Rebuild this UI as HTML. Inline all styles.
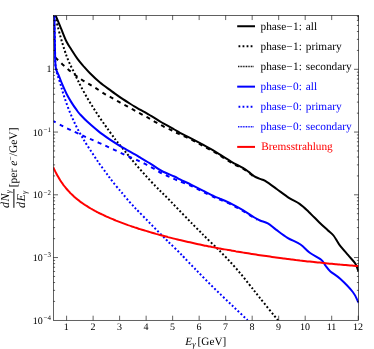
<!DOCTYPE html>
<html><head><meta charset="utf-8"><title>chart</title>
<style>html,body{margin:0;padding:0;background:#fff;}body{width:374px;height:349px;overflow:hidden;position:relative;font-family:"Liberation Serif",serif;}svg{will-change:transform;}svg text{text-rendering:geometricPrecision;}</style></head>
<body>
<svg width="374" height="349" viewBox="0 0 374 349" style="position:absolute;left:0;top:0;font-family:'Liberation Serif',serif">
<rect x="0" y="0" width="374" height="349" fill="#fff"/>
<defs><clipPath id="c"><rect x="53.4" y="15.45" width="305.20000000000005" height="304.85"/></clipPath></defs>
<g clip-path="url(#c)" fill="none" stroke-linejoin="round">
<path d="M55.6,15.4 C56.5,17.6 59.3,24.2 61.1,28.6 C62.9,33.0 64.9,38.4 66.6,41.8 C68.3,45.2 69.4,46.4 71.2,49.2 C73.0,52.0 75.3,55.8 77.5,58.8 C79.7,61.8 82.3,64.7 84.4,67.2 C86.5,69.6 87.4,70.7 90.0,73.3 C92.6,75.9 96.4,79.6 100.0,82.6 C103.6,85.6 107.7,88.3 111.5,91.1 C115.3,93.8 119.1,96.6 122.9,99.2 C126.7,101.7 131.6,104.6 134.4,106.4 C137.2,108.1 137.2,108.0 140.0,109.6 C142.8,111.2 147.9,114.0 151.5,116.2 C155.1,118.3 158.0,120.3 161.8,122.5 C165.6,124.7 171.4,127.7 174.4,129.5 C177.4,131.2 177.2,131.3 180.0,132.8 C182.8,134.3 187.7,136.7 191.5,138.7 C195.3,140.7 199.1,142.7 202.9,144.7 C206.7,146.8 211.6,149.5 214.4,151.1 C217.2,152.8 217.2,152.8 220.0,154.6 C222.8,156.4 227.7,159.6 231.5,161.8 C235.3,164.0 240.0,166.2 242.9,167.9 C245.8,169.6 246.8,170.5 248.7,171.9 C250.6,173.3 252.5,175.1 254.4,176.3 C256.3,177.5 258.2,178.1 260.0,178.9 C261.8,179.7 262.4,179.2 265.2,180.9 C268.0,182.6 272.7,186.1 276.7,189.0 C280.7,191.9 285.5,195.6 289.3,198.1 C293.1,200.6 296.4,201.6 299.6,203.9 C302.9,206.2 305.6,208.9 308.8,211.9 C312.1,214.9 316.0,219.2 319.1,222.2 C322.2,225.2 325.1,227.8 327.5,230.0 C329.9,232.2 331.6,233.1 333.5,235.5 C335.4,237.9 336.7,241.0 339.1,244.3 C341.6,247.6 345.5,252.0 348.2,255.2 C350.9,258.4 353.5,260.9 355.1,263.3 C356.7,265.7 357.2,268.2 357.8,269.5 C358.4,270.8 358.5,270.8 358.6,271.0" stroke="#000" stroke-width="2.0"/>
<path d="M55.0,15.7 C55.9,19.1 58.7,30.3 60.3,36.1 C61.9,41.8 63.4,46.7 64.6,50.3 C65.8,53.9 66.3,55.4 67.2,57.8 C68.1,60.2 69.1,62.3 70.2,64.7 C71.3,67.1 72.8,69.8 74.0,72.3 C75.2,74.7 76.3,77.2 77.5,79.6 C78.7,82.0 79.3,83.5 80.9,86.5 C82.5,89.5 85.0,94.0 87.0,97.5 C89.0,101.0 91.0,104.1 93.0,107.3 C95.0,110.5 97.0,113.6 99.0,116.6 C101.0,119.6 103.3,122.8 105.0,125.2 C106.7,127.7 107.8,129.1 109.3,131.2 C110.8,133.4 113.0,136.3 114.3,138.1 C115.6,139.9 115.3,139.5 117.3,141.9 C119.3,144.4 123.2,149.2 126.3,152.9 C129.3,156.6 132.4,160.4 135.6,164.2 C138.8,167.9 142.3,171.9 145.6,175.6 C148.9,179.3 152.7,183.3 155.6,186.2 C158.5,189.2 160.3,191.0 162.8,193.5 C165.3,195.9 167.8,198.4 170.5,201.2 C173.2,204.0 176.2,207.1 179.2,210.3 C182.2,213.4 186.2,217.5 188.7,220.1 C191.2,222.7 192.2,223.7 194.1,225.6 C196.0,227.6 198.4,230.0 200.3,231.9 C202.2,233.9 203.0,234.6 205.6,237.2 C208.2,239.8 212.5,243.8 216.0,247.3 C219.5,250.7 222.8,254.0 226.5,257.9 C230.2,261.7 234.1,266.1 237.9,270.5 C241.7,274.9 245.6,279.9 249.2,284.4 C252.8,288.8 254.5,291.2 259.3,297.2 C264.1,303.2 274.9,316.5 278.0,320.3" stroke="#000" stroke-width="2.0" stroke-dasharray="1.9 2.15"/>
<path d="M53.4,56.2 C54.0,56.7 55.4,57.7 56.9,59.1 C58.4,60.4 60.6,62.6 62.6,64.5 C64.6,66.3 66.7,68.2 68.9,70.1 C71.1,71.9 73.5,73.8 75.8,75.5 C78.1,77.2 80.4,78.8 82.7,80.3 C85.0,81.7 87.3,83.0 89.5,84.3 C91.7,85.7 93.3,86.5 95.8,88.1 C98.3,89.7 101.9,92.3 104.6,93.9 C107.3,95.5 109.5,96.5 112.0,97.9 C114.5,99.3 117.0,100.8 119.5,102.2 C122.0,103.6 124.8,105.0 127.3,106.3 C129.8,107.6 132.0,109.0 134.4,110.3 C136.8,111.6 139.2,112.9 141.7,114.3 C144.2,115.7 146.7,117.0 149.2,118.4 C151.7,119.8 154.1,121.3 156.6,122.7 C159.1,124.1 161.5,125.5 164.1,126.8 C166.7,128.1 169.6,129.3 172.1,130.5 C174.6,131.7 175.8,132.4 179.0,133.9 C182.2,135.4 187.5,137.7 191.5,139.7 C195.5,141.7 199.1,143.7 202.9,145.8 C206.7,147.9 211.6,150.5 214.4,152.1 C217.2,153.7 217.2,153.8 220.0,155.6 C222.8,157.4 227.7,160.6 231.5,162.8 C235.3,165.0 240.0,167.1 242.9,168.7 C245.8,170.3 246.8,171.2 248.7,172.6 C250.6,174.0 253.4,176.3 254.4,177.0" stroke="#000" stroke-width="2.0" stroke-dasharray="4.0 4.4" stroke-dashoffset="6"/>
<path d="M54.3,15.7 C54.4,21.4 54.8,41.3 55.0,50.0 C55.2,58.7 54.9,62.4 55.8,68.0 C56.7,73.6 59.3,80.2 60.3,83.5 C61.2,86.8 60.8,85.3 61.5,87.7 C62.2,90.1 63.2,93.9 64.6,97.9 C66.0,102.0 67.9,107.4 69.8,112.0 C71.7,116.6 73.8,121.3 75.8,125.4 C77.8,129.5 80.0,133.4 81.8,136.5 C83.6,139.7 84.0,140.3 86.4,144.1 C88.9,147.9 94.3,156.2 96.5,159.6 C98.7,162.9 98.3,162.1 99.7,164.1 C101.1,166.0 103.4,169.2 105.0,171.3 C106.6,173.5 107.7,175.1 109.2,177.1 C110.7,179.2 112.4,181.4 114.2,183.7 C116.0,185.9 118.5,188.8 120.0,190.6 C121.5,192.4 121.8,192.6 123.3,194.4 C124.8,196.2 127.2,199.2 129.1,201.4 C130.9,203.5 132.9,205.6 134.4,207.2 C135.9,208.9 136.1,209.0 138.3,211.2 C140.5,213.5 144.4,217.6 147.5,220.7 C150.6,223.9 153.6,227.0 156.7,230.1 C159.8,233.2 163.6,237.0 165.8,239.2 C168.0,241.5 168.5,241.9 170.0,243.4 C171.5,244.9 173.3,246.6 175.0,248.2 C176.7,249.9 178.5,251.6 180.0,253.2 C181.5,254.7 181.8,255.0 184.2,257.5 C186.6,260.1 190.6,264.3 194.5,268.3 C198.4,272.3 203.0,277.1 207.5,281.6 C212.0,286.1 216.7,290.7 221.3,295.1 C225.9,299.6 230.6,304.0 235.0,308.2 C239.4,312.3 245.5,318.2 247.6,320.2" stroke="#00f" stroke-width="2.0" stroke-dasharray="1.9 2.15"/>
<path d="M53.4,121.1 C54.7,121.8 58.5,123.9 61.2,125.3 C63.9,126.7 66.8,128.2 69.8,129.6 C72.8,131.1 76.0,132.5 79.2,134.0 C82.4,135.4 85.1,136.7 88.7,138.3 C92.3,139.9 96.6,141.8 100.8,143.6 C105.0,145.5 109.3,147.6 113.8,149.6 C118.2,151.7 123.1,154.0 127.5,156.0 C131.9,158.0 136.8,160.0 140.0,161.5 C143.2,163.0 144.5,163.7 146.9,164.9 C149.3,166.1 151.8,167.5 154.3,168.9 C156.8,170.3 159.2,172.0 161.8,173.3 C164.4,174.6 167.0,175.7 169.6,176.9 C172.2,178.1 173.5,178.8 177.2,180.3 C180.8,181.8 187.2,184.1 191.5,186.0 C195.8,187.9 199.1,189.8 202.9,191.7 C206.7,193.6 211.6,196.1 214.4,197.4 C217.2,198.7 217.2,198.4 220.0,199.6 C222.8,200.8 227.7,202.8 231.5,204.7 C235.3,206.6 239.1,208.7 242.9,210.9 C246.7,213.2 252.1,216.7 254.4,218.2 C256.8,219.7 256.6,219.4 257.0,219.7" stroke="#00f" stroke-width="2.0" stroke-dasharray="4.0 4.4" stroke-dashoffset="1.2"/>
<path d="M54.3,15.7 C54.4,21.4 54.8,41.4 55.0,50.0 C55.2,58.6 55.1,63.2 55.8,67.6 C56.5,72.0 58.1,73.7 59.2,76.5 C60.3,79.4 61.2,81.8 62.4,84.7 C63.6,87.5 65.0,90.7 66.5,93.7 C68.0,96.7 69.9,99.9 71.6,102.6 C73.3,105.4 75.4,108.3 76.8,110.2 C78.2,112.2 78.3,112.3 80.0,114.2 C81.7,116.0 83.9,118.5 86.9,121.3 C90.0,124.1 94.6,128.2 98.3,131.1 C102.0,134.1 105.2,136.3 109.3,139.1 C113.4,141.8 118.3,145.0 122.9,147.7 C127.5,150.4 133.8,153.7 136.7,155.3 C139.5,156.9 137.5,155.9 140.0,157.4 C142.5,158.9 147.9,162.0 151.5,164.3 C155.1,166.6 158.0,169.0 161.8,171.0 C165.6,173.0 171.4,175.1 174.4,176.5 C177.4,177.9 177.2,178.0 180.0,179.4 C182.8,180.8 187.7,183.0 191.5,184.9 C195.3,186.8 199.1,188.7 202.9,190.6 C206.7,192.5 211.6,195.0 214.4,196.3 C217.2,197.7 217.2,197.4 220.0,198.7 C222.8,199.9 227.7,201.9 231.5,203.8 C235.3,205.7 239.1,207.8 242.9,210.1 C246.7,212.4 251.6,215.8 254.4,217.5 C257.2,219.2 257.8,219.5 260.0,220.5 C262.2,221.5 265.1,221.9 267.8,223.4 C270.5,224.9 272.7,227.2 276.0,229.6 C279.3,232.0 283.4,235.3 287.5,237.8 C291.6,240.3 296.8,242.0 300.5,244.5 C304.2,247.0 306.4,250.3 309.8,252.8 C313.2,255.3 318.6,257.6 321.2,259.7 C323.8,261.8 323.8,263.4 325.3,265.3 C326.8,267.2 327.9,269.1 330.4,271.4 C332.9,273.6 336.5,275.4 340.2,278.8 C343.9,282.2 349.9,288.3 352.8,292.0 C355.7,295.7 356.8,299.3 357.8,301.1 C358.8,302.9 358.5,302.7 358.6,303.0" stroke="#00f" stroke-width="2.0"/>
<path d="M53.2,167.3 C53.5,167.8 54.2,169.4 54.7,170.4 C55.2,171.4 55.7,172.4 56.2,173.3 C56.7,174.3 57.2,175.2 57.7,176.1 C58.2,177.0 58.7,177.8 59.2,178.6 C59.7,179.5 60.2,180.2 60.7,181.0 C61.2,181.8 61.7,182.5 62.2,183.2 C62.7,183.9 63.2,184.6 63.7,185.3 C64.2,185.9 64.7,186.6 65.2,187.2 C65.7,187.8 66.2,188.4 66.7,189.0 C67.2,189.6 67.7,190.2 68.2,190.7 C68.7,191.3 69.2,191.8 69.7,192.3 C70.2,192.9 70.7,193.4 71.2,193.9 C71.7,194.4 72.2,194.8 72.7,195.3 C73.2,195.8 73.7,196.2 74.2,196.7 C74.7,197.1 75.2,197.5 75.7,198.0 C76.2,198.4 76.7,198.8 77.2,199.2 C77.7,199.6 78.2,200.0 78.7,200.4 C79.2,200.8 79.7,201.2 80.2,201.6 C80.7,201.9 81.2,202.3 81.7,202.7 C82.2,203.0 82.7,203.4 83.2,203.7 C83.7,204.1 84.2,204.4 84.7,204.7 C85.2,205.1 85.7,205.4 86.2,205.7 C86.7,206.0 87.2,206.3 87.7,206.7 C88.2,207.0 88.7,207.3 89.2,207.6 C89.7,207.9 90.2,208.2 90.7,208.5 C91.2,208.8 91.7,209.1 92.2,209.3 C92.7,209.6 93.2,209.9 93.7,210.2 C94.2,210.5 94.7,210.7 95.2,211.0 C95.7,211.3 96.2,211.5 96.7,211.8 C97.2,212.1 97.7,212.3 98.2,212.6 C98.7,212.8 99.4,213.2 99.7,213.3 C100.0,213.5 99.3,213.1 100.0,213.5 C100.7,213.8 102.7,214.8 104.0,215.4 C105.3,216.0 106.7,216.6 108.0,217.2 C109.3,217.8 110.7,218.4 112.0,218.9 C113.3,219.5 114.7,220.0 116.0,220.6 C117.3,221.1 118.7,221.6 120.0,222.1 C121.3,222.6 122.7,223.1 124.0,223.6 C125.3,224.1 126.7,224.6 128.0,225.1 C129.3,225.5 130.7,226.0 132.0,226.5 C133.3,226.9 134.7,227.4 136.0,227.8 C137.3,228.2 138.7,228.7 140.0,229.1 C141.3,229.5 142.7,229.9 144.0,230.3 C145.3,230.7 146.7,231.2 148.0,231.5 C149.3,231.9 150.7,232.3 152.0,232.7 C153.3,233.1 154.7,233.5 156.0,233.9 C157.3,234.2 158.7,234.6 160.0,235.0 C161.3,235.3 162.7,235.7 164.0,236.0 C165.3,236.4 166.7,236.7 168.0,237.1 C169.3,237.4 170.7,237.8 172.0,238.1 C173.3,238.4 174.7,238.8 176.0,239.1 C177.3,239.4 178.7,239.7 180.0,240.1 C181.3,240.4 182.7,240.7 184.0,241.0 C185.3,241.3 186.7,241.6 188.0,241.9 C189.3,242.2 190.7,242.5 192.0,242.8 C193.3,243.1 194.7,243.4 196.0,243.7 C197.3,244.0 198.7,244.3 200.0,244.5 C201.3,244.8 202.7,245.1 204.0,245.4 C205.3,245.7 206.7,245.9 208.0,246.2 C209.3,246.5 210.7,246.7 212.0,247.0 C213.3,247.2 214.7,247.5 216.0,247.8 C217.3,248.0 218.7,248.3 220.0,248.5 C221.3,248.8 222.7,249.0 224.0,249.3 C225.3,249.5 226.7,249.7 228.0,250.0 C229.3,250.2 230.7,250.4 232.0,250.7 C233.3,250.9 234.7,251.1 236.0,251.4 C237.3,251.6 238.7,251.8 240.0,252.0 C241.3,252.3 242.7,252.5 244.0,252.7 C245.3,252.9 246.7,253.1 248.0,253.3 C249.3,253.6 250.7,253.8 252.0,254.0 C253.3,254.2 254.7,254.4 256.0,254.6 C257.3,254.8 258.7,255.0 260.0,255.2 C261.3,255.4 262.7,255.6 264.0,255.8 C265.3,256.0 266.7,256.2 268.0,256.3 C269.3,256.5 270.7,256.7 272.0,256.9 C273.3,257.1 274.7,257.3 276.0,257.4 C277.3,257.6 278.7,257.8 280.0,258.0 C281.3,258.2 282.7,258.3 284.0,258.5 C285.3,258.7 286.7,258.8 288.0,259.0 C289.3,259.2 290.7,259.3 292.0,259.5 C293.3,259.7 294.7,259.8 296.0,260.0 C297.3,260.1 298.7,260.3 300.0,260.5 C301.3,260.6 302.7,260.8 304.0,260.9 C305.3,261.1 306.7,261.2 308.0,261.4 C309.3,261.5 310.7,261.7 312.0,261.8 C313.3,261.9 314.7,262.1 316.0,262.2 C317.3,262.4 318.7,262.5 320.0,262.6 C321.3,262.8 322.7,262.9 324.0,263.0 C325.3,263.2 326.7,263.3 328.0,263.4 C329.3,263.6 330.7,263.7 332.0,263.8 C333.3,264.0 334.7,264.1 336.0,264.2 C337.3,264.3 338.7,264.4 340.0,264.6 C341.3,264.7 342.7,264.8 344.0,264.9 C345.3,265.0 346.7,265.2 348.0,265.3 C349.3,265.4 350.7,265.5 352.0,265.6 C353.3,265.7 354.9,265.8 356.0,265.9 C357.1,266.0 358.2,266.1 358.6,266.1" stroke="#f00" stroke-width="2.0"/>
</g>
<g stroke="#000" stroke-width="0.62" fill="none">
<rect x="53.4" y="15.45" width="305.20000000000005" height="304.85"/>
<path d="M66.60,320.3 v-4.6 M66.60,15.45 v4.6"/>
<path d="M93.11,320.3 v-4.6 M93.11,15.45 v4.6"/>
<path d="M119.62,320.3 v-4.6 M119.62,15.45 v4.6"/>
<path d="M146.13,320.3 v-4.6 M146.13,15.45 v4.6"/>
<path d="M172.64,320.3 v-4.6 M172.64,15.45 v4.6"/>
<path d="M199.15,320.3 v-4.6 M199.15,15.45 v4.6"/>
<path d="M225.66,320.3 v-4.6 M225.66,15.45 v4.6"/>
<path d="M252.17,320.3 v-4.6 M252.17,15.45 v4.6"/>
<path d="M278.68,320.3 v-4.6 M278.68,15.45 v4.6"/>
<path d="M305.19,320.3 v-4.6 M305.19,15.45 v4.6"/>
<path d="M331.70,320.3 v-4.6 M331.70,15.45 v4.6"/>
<path d="M358.21,320.3 v-4.6 M358.21,15.45 v4.6"/>
<path d="M53.4,301.41 h1.7 M358.6,301.41 h-1.7"/>
<path d="M53.4,290.36 h1.7 M358.6,290.36 h-1.7"/>
<path d="M53.4,282.52 h1.7 M358.6,282.52 h-1.7"/>
<path d="M53.4,276.44 h1.7 M358.6,276.44 h-1.7"/>
<path d="M53.4,271.47 h1.7 M358.6,271.47 h-1.7"/>
<path d="M53.4,267.27 h1.7 M358.6,267.27 h-1.7"/>
<path d="M53.4,263.63 h1.7 M358.6,263.63 h-1.7"/>
<path d="M53.4,260.42 h1.7 M358.6,260.42 h-1.7"/>
<path d="M53.4,257.55 h4.6 M358.6,257.55 h-4.6"/>
<path d="M53.4,238.66 h1.7 M358.6,238.66 h-1.7"/>
<path d="M53.4,227.61 h1.7 M358.6,227.61 h-1.7"/>
<path d="M53.4,219.77 h1.7 M358.6,219.77 h-1.7"/>
<path d="M53.4,213.69 h1.7 M358.6,213.69 h-1.7"/>
<path d="M53.4,208.72 h1.7 M358.6,208.72 h-1.7"/>
<path d="M53.4,204.52 h1.7 M358.6,204.52 h-1.7"/>
<path d="M53.4,200.88 h1.7 M358.6,200.88 h-1.7"/>
<path d="M53.4,197.67 h1.7 M358.6,197.67 h-1.7"/>
<path d="M53.4,194.80 h4.6 M358.6,194.80 h-4.6"/>
<path d="M53.4,175.91 h1.7 M358.6,175.91 h-1.7"/>
<path d="M53.4,164.86 h1.7 M358.6,164.86 h-1.7"/>
<path d="M53.4,157.02 h1.7 M358.6,157.02 h-1.7"/>
<path d="M53.4,150.94 h1.7 M358.6,150.94 h-1.7"/>
<path d="M53.4,145.97 h1.7 M358.6,145.97 h-1.7"/>
<path d="M53.4,141.77 h1.7 M358.6,141.77 h-1.7"/>
<path d="M53.4,138.13 h1.7 M358.6,138.13 h-1.7"/>
<path d="M53.4,134.92 h1.7 M358.6,134.92 h-1.7"/>
<path d="M53.4,132.05 h4.6 M358.6,132.05 h-4.6"/>
<path d="M53.4,113.16 h1.7 M358.6,113.16 h-1.7"/>
<path d="M53.4,102.11 h1.7 M358.6,102.11 h-1.7"/>
<path d="M53.4,94.27 h1.7 M358.6,94.27 h-1.7"/>
<path d="M53.4,88.19 h1.7 M358.6,88.19 h-1.7"/>
<path d="M53.4,83.22 h1.7 M358.6,83.22 h-1.7"/>
<path d="M53.4,79.02 h1.7 M358.6,79.02 h-1.7"/>
<path d="M53.4,75.38 h1.7 M358.6,75.38 h-1.7"/>
<path d="M53.4,72.17 h1.7 M358.6,72.17 h-1.7"/>
<path d="M53.4,69.30 h4.6 M358.6,69.30 h-4.6"/>
<path d="M53.4,50.41 h1.7 M358.6,50.41 h-1.7"/>
<path d="M53.4,39.36 h1.7 M358.6,39.36 h-1.7"/>
<path d="M53.4,31.52 h1.7 M358.6,31.52 h-1.7"/>
<path d="M53.4,25.44 h1.7 M358.6,25.44 h-1.7"/>
<path d="M53.4,20.47 h1.7 M358.6,20.47 h-1.7"/>
<path d="M53.4,16.27 h1.7 M358.6,16.27 h-1.7"/>
</g>
<g font-size="10" fill="#000" text-anchor="middle">
<text x="66.3" y="329.7">1</text>
<text x="92.9" y="329.7">2</text>
<text x="119.4" y="329.7">3</text>
<text x="145.9" y="329.7">4</text>
<text x="172.4" y="329.7">5</text>
<text x="198.9" y="329.7">6</text>
<text x="225.4" y="329.7">7</text>
<text x="251.9" y="329.7">8</text>
<text x="278.4" y="329.7">9</text>
<text x="304.9" y="329.7">10</text>
<text x="331.5" y="329.7">11</text>
<text x="358.0" y="329.7">12</text>
</g>
<text x="42.8" y="323.7" font-size="10" text-anchor="end">10</text>
<text x="43.6" y="320.0" font-size="7">−4</text>
<text x="42.8" y="260.9" font-size="10" text-anchor="end">10</text>
<text x="43.6" y="257.2" font-size="7">−3</text>
<text x="42.8" y="198.2" font-size="10" text-anchor="end">10</text>
<text x="43.6" y="194.5" font-size="7">−2</text>
<text x="42.8" y="135.5" font-size="10" text-anchor="end">10</text>
<text x="43.6" y="131.8" font-size="7">−1</text>
<text x="51.6" y="71.7" font-size="10" text-anchor="end">1</text>
<text x="185.2" y="344.7" font-size="11.25"><tspan font-style="italic">E</tspan><tspan font-size="8.6" dy="2.3" dx="0.2" font-style="italic">γ</tspan><tspan dy="-2.3" dx="1.9">[GeV]</tspan></text>
<g transform="translate(0,208.1) rotate(-90)" font-size="11.25">
<text x="0" y="8.7" font-size="12"><tspan font-style="italic" letter-spacing="0.5">dN</tspan><tspan font-size="8" dy="2.4" dx="-0.2" font-style="italic">γ</tspan></text>
<rect x="0.3" y="13.4" width="18.9" height="1" fill="#000"/>
<text x="0.2" y="25.0" font-size="12"><tspan font-style="italic" letter-spacing="0.3">dE</tspan><tspan font-size="8" dy="2.4" dx="-0.1" font-style="italic">γ</tspan></text>
<text x="20.9" y="17.3" font-size="11.5">[per <tspan font-style="italic">e</tspan><tspan font-size="7.9" dy="-4">−</tspan><tspan dy="4">/GeV]</tspan></text>
</g>
<path d="M237.2,26.25 H255" stroke="#000" stroke-width="2.0"/>
<text x="260.5" y="29.70" font-size="11.3" fill="#000">phase−<tspan dx="0.5">1</tspan>: <tspan dx="1.1">all</tspan></text>
<path d="M238.5,46.2 H253" stroke="#000" stroke-width="1.9" stroke-dasharray="1.8 2.25"/>
<text x="260.5" y="49.65" font-size="11.3" fill="#000">phase−<tspan dx="0.5">1</tspan>: <tspan dx="1.1">primary</tspan></text>
<path d="M238,66.55 H254.2" stroke="#000" stroke-width="1.6" stroke-dasharray="0.9 0.72"/>
<text x="260.5" y="70.00" font-size="11.3" fill="#000">phase−<tspan dx="0.5">1</tspan>: <tspan dx="1.1">secondary</tspan></text>
<path d="M237.2,86.65 H255" stroke="#00f" stroke-width="2.0"/>
<text x="260.5" y="90.10" font-size="11.3" fill="#00f">phase−<tspan dx="0.5">0</tspan>: <tspan dx="1.1">all</tspan></text>
<path d="M238.5,106.7 H253" stroke="#00f" stroke-width="1.9" stroke-dasharray="1.8 2.25"/>
<text x="260.5" y="110.15" font-size="11.3" fill="#00f">phase−<tspan dx="0.5">0</tspan>: <tspan dx="1.1">primary</tspan></text>
<path d="M238,126.8 H254.2" stroke="#00f" stroke-width="1.6" stroke-dasharray="0.9 0.72"/>
<text x="260.5" y="130.25" font-size="11.3" fill="#00f">phase−<tspan dx="0.5">0</tspan>: <tspan dx="1.1">secondary</tspan></text>
<path d="M237.2,146.9 H255" stroke="#f00" stroke-width="2.0"/>
<text x="260.5" y="150.35" font-size="11.3" fill="#f00"><tspan dx="0.7">Bremsstrahlung</tspan></text>
</svg>
</body></html>
